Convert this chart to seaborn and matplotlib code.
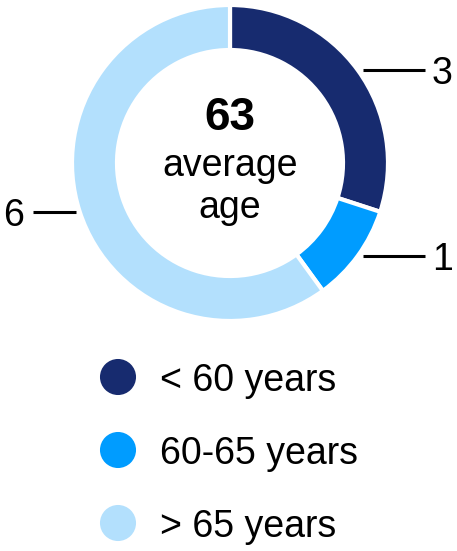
import numpy as np
import seaborn as sns
import matplotlib.pyplot as plt

# Dati
gruppi = ['< 60 years', '60-65 years', '> 65 years']
conteggi = [3, 1, 6]
colori = ['#172b6f', '#009cff', '#b3e0fd']
eta_media = 63

sns.set_style('white')
plt.rcParams['font.family'] = ['Liberation Sans', 'DejaVu Sans']
plt.rcParams['text.color'] = 'black'

W, H = 457, 551
fig = plt.figure(figsize=(W / 100, H / 100), dpi=100)
ax = fig.add_axes([0, 0, 1, 1])

# ciambella
cx, cy, r = 230, H - 163, 158
wedges, _ = ax.pie(conteggi, colors=colori, startangle=90, counterclock=False,
                   center=(cx, cy), radius=r, frame=True,
                   wedgeprops=dict(width=45, edgecolor='white', linewidth=3))
ax.set_xlim(0, W)
ax.set_ylim(0, H)
ax.set_aspect('equal')
ax.axis('off')

# etichette con linee
for w, n in zip(wedges, conteggi):
    ang = np.deg2rad((w.theta1 + w.theta2) / 2)
    y = cy + r * np.sin(ang)
    x0 = cx + (r + 6) * np.cos(ang)
    if np.cos(ang) >= 0:
        ax.plot([x0, 425], [y, y], color='black', lw=2.2, solid_capstyle='butt')
        ax.text(432, y, str(n), fontsize=27, va='center_baseline', ha='left')
    else:
        ax.plot([x0 + 2, 33], [y, y], color='black', lw=2.2, solid_capstyle='butt')
        ax.text(24, y, str(n), fontsize=27, va='center_baseline', ha='right')

# testo centrale
ax.text(cx, H - 130, str(eta_media), fontsize=33, fontweight='bold', ha='center', va='baseline')
ax.text(cx, H - 176, 'average', fontsize=27, ha='center', va='baseline')
ax.text(cx, H - 218, 'age', fontsize=27, ha='center', va='baseline')

# legenda
ys = [H - 377, H - 450, H - 523]
sns.scatterplot(x=[118] * 3, y=ys, hue=gruppi, palette=colori, s=36 ** 2 * 0.52,
                linewidth=0, legend=False, ax=ax)
for yy, g in zip(ys, gruppi):
    ax.text(160, yy, g, fontsize=27, va='center_baseline', ha='left')

plt.savefig('out.png', dpi=100)
